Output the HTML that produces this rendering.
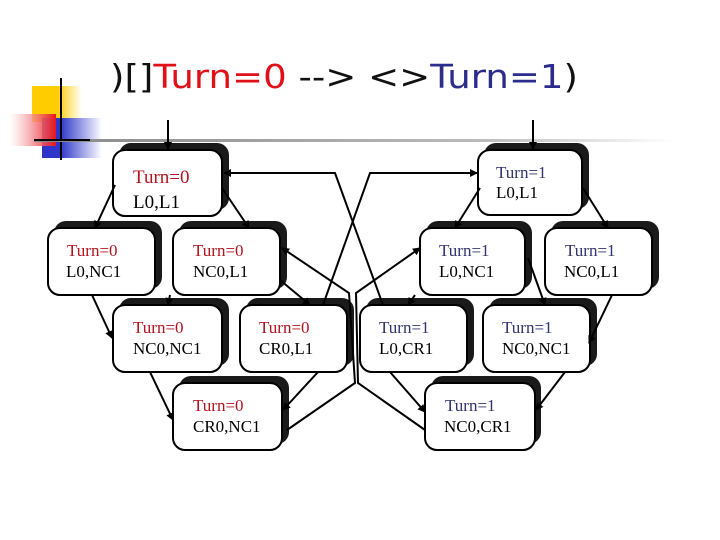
<!DOCTYPE html>
<html><head><meta charset="utf-8"><style>
html,body{margin:0;padding:0;background:#fff;}
svg{display:block;}
</style></head><body>
<svg width="720" height="540" viewBox="0 0 720 540" xmlns="http://www.w3.org/2000/svg">
<defs>
<linearGradient id="hl" x1="0" x2="1"><stop offset="0" stop-color="#888"/><stop offset="0.7" stop-color="#bbb"/><stop offset="1" stop-color="#fff"/></linearGradient>
<linearGradient id="rd" x1="0" x2="1"><stop offset="0" stop-color="#fff" stop-opacity="0.6"/><stop offset="1" stop-color="#e8141c"/></linearGradient>
<linearGradient id="bl" x1="0" x2="1"><stop offset="0.3" stop-color="#2d36c8"/><stop offset="1" stop-color="#fff"/></linearGradient>
<linearGradient id="yl" x1="0" x2="1"><stop offset="0.5" stop-color="#ffcc00"/><stop offset="1" stop-color="#fff"/></linearGradient>
<marker id="a" markerWidth="8" markerHeight="8" refX="7" refY="4" orient="auto" markerUnits="userSpaceOnUse"><path d="M0,0 L8,4 L0,8 z" fill="#000"/></marker>
</defs>
<!-- decoration -->
<rect x="32" y="86" width="50" height="36" fill="url(#yl)"/>
<rect x="42" y="118" width="60" height="40" fill="url(#bl)"/>
<rect x="10" y="114" width="46" height="32" fill="url(#rd)"/>
<line x1="61" y1="78" x2="61" y2="160" stroke="#000" stroke-width="2"/>
<rect x="34" y="139" width="640" height="3" fill="url(#hl)"/>
<line x1="34" y1="140" x2="90" y2="140" stroke="#000" stroke-width="2"/>
<!-- title -->
<text x="110" y="88" font-family="'DejaVu Sans','Liberation Sans',sans-serif" font-size="33" textLength="468" lengthAdjust="spacingAndGlyphs"><tspan fill="#111">)[]</tspan><tspan fill="#e01018">Turn=0</tspan><tspan fill="#111"> --&gt; &lt;&gt;</tspan><tspan fill="#2c2c8c">Turn=1</tspan><tspan fill="#111">)</tspan></text>

<!-- boxes -->
<g font-family="'Liberation Serif',serif" font-size="18">
<g id="boxes"></g>
</g>
<g stroke="#000" stroke-width="2" fill="#fff">
<!-- shadows -->
<g fill="#1a1a1a" stroke="none">
<rect x="119" y="143" width="110" height="67" rx="12"/>
<rect x="484" y="143" width="105" height="66" rx="12"/>
<rect x="54" y="221" width="108" height="68" rx="12"/>
<rect x="179" y="221" width="108" height="68" rx="12"/>
<rect x="426" y="221" width="106" height="68" rx="12"/>
<rect x="551" y="221" width="108" height="68" rx="12"/>
<rect x="119" y="298" width="110" height="68" rx="12"/>
<rect x="246" y="298" width="108" height="68" rx="12"/>
<rect x="366" y="298" width="108" height="68" rx="12"/>
<rect x="489" y="298" width="108" height="68" rx="12"/>
<rect x="179" y="376" width="110" height="68" rx="12"/>
<rect x="431" y="376" width="110" height="68" rx="12"/>
</g>
<rect x="113" y="150" width="109" height="66" rx="12"/>
<rect x="478" y="150" width="104" height="65" rx="12"/>
<rect x="48" y="228" width="107" height="67" rx="12"/>
<rect x="173" y="228" width="107" height="67" rx="12"/>
<rect x="420" y="228" width="105" height="67" rx="12"/>
<rect x="545" y="228" width="107" height="67" rx="12"/>
<rect x="113" y="305" width="109" height="67" rx="12"/>
<rect x="240" y="305" width="107" height="67" rx="12"/>
<rect x="360" y="305" width="107" height="67" rx="12"/>
<rect x="483" y="305" width="107" height="67" rx="12"/>
<rect x="173" y="383" width="109" height="67" rx="12"/>
<rect x="425" y="383" width="110" height="67" rx="12"/>
</g>
<!-- connectors -->
<g stroke="#000" stroke-width="2" fill="none">
<line x1="168" y1="120" x2="168" y2="149" marker-end="url(#a)"/>
<line x1="533" y1="120" x2="533" y2="149" marker-end="url(#a)"/>
<line x1="115" y1="185" x2="95" y2="228" marker-end="url(#a)"/>
<line x1="222" y1="188" x2="249" y2="228" marker-end="url(#a)"/>
<line x1="480" y1="188" x2="455" y2="228" marker-end="url(#a)"/>
<line x1="583" y1="188" x2="608" y2="228" marker-end="url(#a)"/>
<polyline points="383,305 335,173 224,173" marker-end="url(#a)"/>
<polyline points="323,305 370,173 477,173" marker-end="url(#a)"/>
<polyline points="287,430 355,383 349,293 282,248" marker-end="url(#a)"/>
<polyline points="425,430 358,383 356,293 420,248" marker-end="url(#a)"/>
<line x1="92" y1="295" x2="112" y2="338" marker-end="url(#a)"/>
<line x1="170" y1="295" x2="168" y2="305" marker-end="url(#a)"/>
<line x1="280" y1="280" x2="310" y2="305" marker-end="url(#a)"/>
<line x1="255" y1="295" x2="345" y2="300"  stroke="none"/>
<line x1="415" y1="295" x2="408" y2="305" marker-end="url(#a)"/>
<line x1="528" y1="258" x2="545" y2="305" marker-end="url(#a)"/>
<line x1="612" y1="295" x2="589" y2="343" marker-end="url(#a)"/>
<line x1="150" y1="372" x2="173" y2="420" marker-end="url(#a)"/>
<line x1="318" y1="372" x2="283" y2="410" marker-end="url(#a)"/>
<line x1="390" y1="372" x2="425" y2="412" marker-end="url(#a)"/>
<line x1="565" y1="372" x2="536" y2="410" marker-end="url(#a)"/>
</g>
<!-- labels -->
<g font-family="'Liberation Serif',serif" font-size="19">
<text x="133" y="183" fill="#b0141e">Turn=0</text><text x="133" y="208" fill="#000">L0,L1</text>
<text x="496" y="178" fill="#33336e" font-size="17">Turn=1</text><text x="496" y="198" fill="#000" font-size="17">L0,L1</text>
<text x="67" y="256" fill="#b0141e" font-size="17">Turn=0</text><text x="66" y="277" fill="#000" font-size="17">L0,NC1</text>
<text x="193" y="256" fill="#b0141e" font-size="17">Turn=0</text><text x="193" y="277" fill="#000" font-size="17">NC0,L1</text>
<text x="439" y="256" fill="#33336e" font-size="17">Turn=1</text><text x="439" y="277" fill="#000" font-size="17">L0,NC1</text>
<text x="565" y="256" fill="#33336e" font-size="17">Turn=1</text><text x="564" y="277" fill="#000" font-size="17">NC0,L1</text>
<text x="133" y="333" fill="#b0141e" font-size="17">Turn=0</text><text x="133" y="354" fill="#000" font-size="17">NC0,NC1</text>
<text x="259" y="333" fill="#b0141e" font-size="17">Turn=0</text><text x="259" y="354" fill="#000" font-size="17">CR0,L1</text>
<text x="379" y="333" fill="#33336e" font-size="17">Turn=1</text><text x="379" y="354" fill="#000" font-size="17">L0,CR1</text>
<text x="502" y="333" fill="#33336e" font-size="17">Turn=1</text><text x="502" y="354" fill="#000" font-size="17">NC0,NC1</text>
<text x="193" y="411" fill="#b0141e" font-size="17">Turn=0</text><text x="193" y="432" fill="#000" font-size="17">CR0,NC1</text>
<text x="445" y="411" fill="#33336e" font-size="17">Turn=1</text><text x="444" y="432" fill="#000" font-size="17">NC0,CR1</text>
</g>
</svg>
</body></html>
